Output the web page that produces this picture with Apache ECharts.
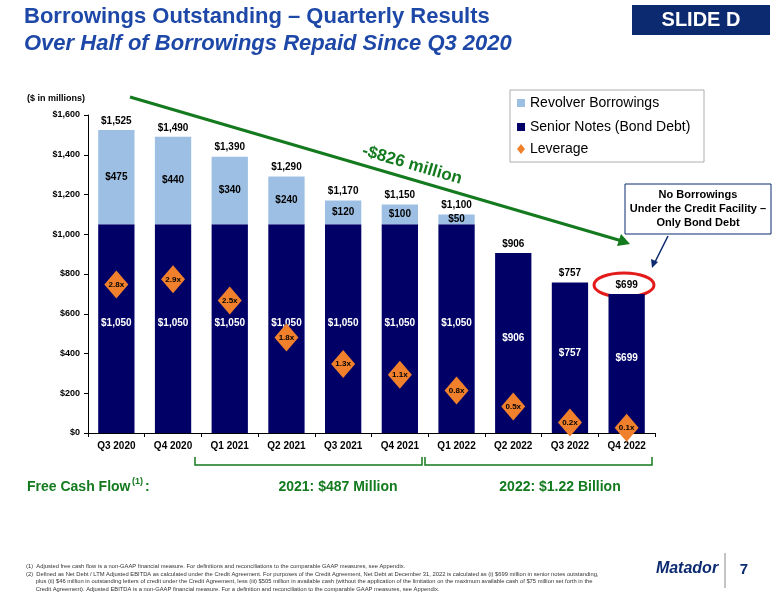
<!DOCTYPE html>
<html><head><meta charset="utf-8">
<script src="https://cdn.jsdelivr.net/npm/echarts@6/dist/echarts.min.js"></script>
<style>body{margin:0;background:#fff}#c{width:776px;height:600px}</style></head>
<body><div id="c"></div>
<script>
const categories=['Q3 2020','Q4 2020','Q1 2021','Q2 2021','Q3 2021','Q4 2021','Q1 2022','Q2 2022','Q3 2022','Q4 2022'];
const seniorNotes=[1050,1050,1050,1050,1050,1050,1050,906,757,699];
const revolver=[475,440,340,240,120,100,50,0,0,0];
const totals=[1525,1490,1390,1290,1170,1150,1100,906,757,699];
const leverage=[2.8,2.9,2.5,1.8,1.3,1.1,0.8,0.5,0.2,0.1];
const yTicks=[0,200,400,600,800,1000,1200,1400,1600];
const fmt=v=>'$'+v.toLocaleString('en-US');
const F='Liberation Sans, Arial, sans-serif';
const chart=echarts.init(document.getElementById('c'));
const navy='#000066', light='#9DBFE3', orange='#F0802C', green='#137A1E', titleC='#1E48A8';
chart.setOption({
  animation:false,
  textStyle:{fontFamily:F},
  grid:{left:88,right:121,top:115,bottom:167},
  legend:{show:false},
  xAxis:{type:'category',data:categories,axisTick:{show:true,length:4},
    axisLine:{lineStyle:{color:'#000'}},axisLabel:{color:'#000',fontWeight:'bold',fontSize:10,margin:8}},
  yAxis:[{type:'value',min:yTicks[0],max:yTicks[yTicks.length-1],interval:200,
    axisLine:{show:true,lineStyle:{color:'#000'}},axisTick:{show:true,length:4},splitLine:{show:false},
    axisLabel:{color:'#000',fontWeight:'bold',fontSize:9,formatter:v=>fmt(v)}},
    {type:'value',min:0,max:6,show:false,splitLine:{show:false}}],
  series:[
    {name:'Senior Notes (Bond Debt)',type:'bar',stack:'a',data:seniorNotes,barWidth:'64%',itemStyle:{color:navy},
      label:{show:true,position:'inside',color:'#fff',fontWeight:'bold',fontSize:10,formatter:p=>fmt(p.value),offset:[0,-5]}},
    {name:'Revolver Borrowings',type:'bar',stack:'a',data:revolver,itemStyle:{color:light},
      label:{show:true,position:'inside',color:'#000',fontWeight:'bold',fontSize:10,formatter:p=>p.value>0?fmt(p.value):''}},
    {name:'Total',type:'scatter',data:totals,symbolSize:0,z:5,itemStyle:{opacity:1},
      label:{show:true,position:'top',distance:4,color:'#000',fontWeight:'bold',fontSize:10,formatter:p=>fmt(p.value)}},
    {name:'Leverage',type:'scatter',yAxisIndex:1,data:leverage,symbol:'diamond',symbolSize:[24,28],z:6,
      itemStyle:{color:orange,opacity:1},
      label:{show:true,position:'inside',color:'#000',fontWeight:'bold',fontSize:8,formatter:p=>p.value.toFixed(1)+'x'}}
  ],
  graphic:[
    {type:'text',left:24,top:6,style:{text:'Borrowings Outstanding – Quarterly Results',font:'bold 22px '+F,fill:titleC}},
    {type:'text',left:24,top:33,style:{text:'Over Half of Borrowings Repaid Since Q3 2020',font:'italic bold 22px '+F,fill:titleC}},
    {type:'rect',shape:{x:632,y:5,width:138,height:30},style:{fill:'#0B2A6F'}},
    {type:'text',x:701,y:20,style:{text:'SLIDE D',font:'bold 20px '+F,fill:'#fff',align:'center',verticalAlign:'middle'}},
    {type:'text',left:27,top:94,style:{text:'($ in millions)',font:'bold 9px '+F,fill:'#000'}},
    {type:'rect',shape:{x:510,y:90,width:194,height:72},style:{fill:'#fff',stroke:'#999',lineWidth:0.8}},
    {type:'rect',shape:{x:517,y:99,width:8,height:8},style:{fill:light}},
    {type:'text',x:530,y:103,style:{text:'Revolver Borrowings',font:'14px '+F,fill:'#000',verticalAlign:'middle'}},
    {type:'rect',shape:{x:517,y:123,width:8,height:8},style:{fill:navy}},
    {type:'text',x:530,y:127,style:{text:'Senior Notes (Bond Debt)',font:'14px '+F,fill:'#000',verticalAlign:'middle'}},
    {type:'polygon',shape:{points:[[521,144],[525,149],[521,154],[517,149]]},style:{fill:orange}},
    {type:'text',x:530,y:149,style:{text:'Leverage',font:'14px '+F,fill:'#000',verticalAlign:'middle'}},
    {type:'line',shape:{x1:130,y1:97,x2:622,y2:241},style:{stroke:green,lineWidth:3}},
    {type:'polygon',shape:{points:[[630,244],[617,246],[621,234]]},style:{fill:green}},
    {type:'text',x:412,y:165,rotation:-0.285,style:{text:'-$826 million',font:'bold 17px '+F,fill:green,align:'center',verticalAlign:'middle'}},
    {type:'rect',shape:{x:625,y:184,width:146,height:50},style:{fill:'#fff',stroke:'#0B2A6F',lineWidth:1}},
    {type:'text',x:698,y:209,style:{text:'No Borrowings\nUnder the Credit Facility –\nOnly Bond Debt',font:'bold 11px '+F,fill:'#000',align:'center',verticalAlign:'middle',lineHeight:14}},
    {type:'line',shape:{x1:668,y1:236,x2:655,y2:262},style:{stroke:'#0B2A6F',lineWidth:1.5}},
    {type:'polygon',shape:{points:[[652,268],[651,259],[658,262]]},style:{fill:'#0B2A6F'}},
    {type:'ellipse',shape:{cx:624,cy:285,rx:30,ry:12},style:{fill:'none',stroke:'#E31B1B',lineWidth:3}},
    {type:'text',left:27,top:480,style:{text:'Free Cash Flow',font:'bold 14px '+F,fill:green}},
    {type:'text',left:132,top:477,style:{text:'(1)',font:'bold 9px '+F,fill:green}},
    {type:'text',left:145,top:480,style:{text:':',font:'bold 14px '+F,fill:green}},
    {type:'polyline',shape:{points:[[195,457],[195,465],[422,465],[422,457]]},style:{stroke:green,lineWidth:1.5,fill:'none'}},
    {type:'polyline',shape:{points:[[425,457],[425,465],[652,465],[652,457]]},style:{stroke:green,lineWidth:1.5,fill:'none'}},
    {type:'text',x:338,y:487,style:{text:'2021: $487 Million',font:'bold 14px '+F,fill:green,align:'center',verticalAlign:'middle'}},
    {type:'text',x:560,y:487,style:{text:'2022: $1.22 Billion',font:'bold 14px '+F,fill:green,align:'center',verticalAlign:'middle'}},
    {type:'text',left:26,top:563,style:{text:'(1)  Adjusted free cash flow is a non-GAAP financial measure. For definitions and reconciliations to the comparable GAAP measures, see Appendix.\n(2)  Defined as Net Debt / LTM Adjusted EBITDA as calculated under the Credit Agreement. For purposes of the Credit Agreement, Net Debt at December 31, 2022 is calculated as (i) $699 million in senior notes outstanding,\n      plus (ii) $46 million in outstanding letters of credit under the Credit Agreement, less (iii) $505 million in available cash (without the application of the limitation on the maximum available cash of $75 million set forth in the\n      Credit Agreement). Adjusted EBITDA is a non-GAAP financial measure. For a definition and reconciliation to the comparable GAAP measures, see Appendix.',font:'5.8px '+F,fill:'#333',lineHeight:7.5}},
    {type:'text',x:687,y:569,style:{text:'Matador',font:'italic bold 16px '+F,fill:'#0B2A6F',align:'center',verticalAlign:'middle'}},
    {type:'line',shape:{x1:725,y1:553,x2:725,y2:588},style:{stroke:'#888',lineWidth:1}},
    {type:'text',x:744,y:570,style:{text:'7',font:'bold 15px '+F,fill:'#0B2A6F',align:'center',verticalAlign:'middle'}}
  ]
});
</script></body></html>
